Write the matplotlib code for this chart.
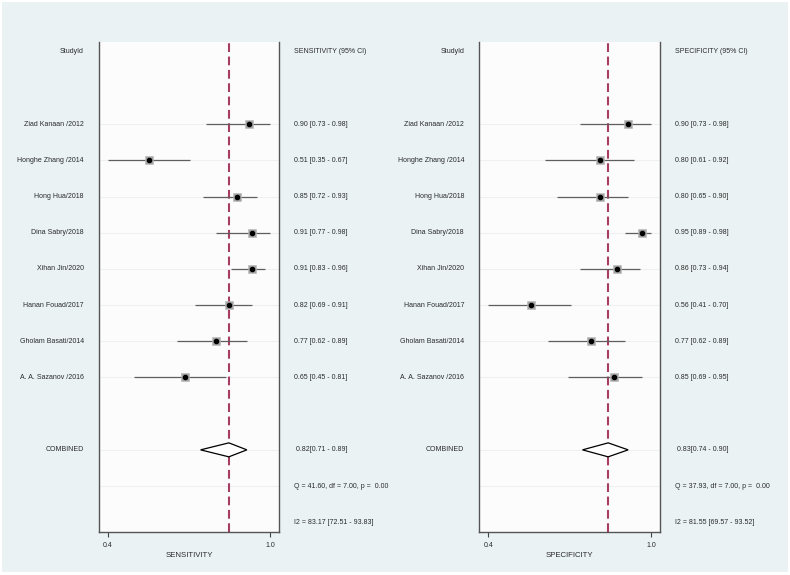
import matplotlib
matplotlib.use("Agg")
import matplotlib.pyplot as plt
from matplotlib.patches import Rectangle, Polygon
import matplotlib.transforms as mtransforms

plt.rcParams['font.family'] = ['Liberation Sans', 'DejaVu Sans']

studies = ["Ziad Kanaan /2012", "Honghe Zhang /2014", "Hong Hua/2018", "Dina Sabry/2018",
           "Xihan Jin/2020", "Hanan Fouad/2017", "Gholam Basati/2014", "A. A. Sazanov /2016"]

sens = [0.90, 0.51, 0.85, 0.91, 0.91, 0.82, 0.77, 0.65]
sens_lo = [0.73, 0.35, 0.72, 0.77, 0.83, 0.69, 0.62, 0.45]
sens_hi = [0.98, 0.67, 0.93, 0.98, 0.96, 0.91, 0.89, 0.81]
sens_pooled = [0.82, 0.71, 0.89]
sens_q = [41.60, 7.00, 0.00]
sens_i2 = [83.17, 72.51, 93.83]

spec = [0.90, 0.80, 0.80, 0.95, 0.86, 0.56, 0.77, 0.85]
spec_lo = [0.73, 0.61, 0.65, 0.89, 0.73, 0.41, 0.62, 0.69]
spec_hi = [0.98, 0.92, 0.90, 0.98, 0.94, 0.70, 0.89, 0.95]
spec_pooled = [0.83, 0.74, 0.90]
spec_q = [37.93, 7.00, 0.00]
spec_i2 = [81.55, 69.57, 93.52]

W, H = 790, 575
fig = plt.figure(figsize=(W / 100, H / 100), dpi=100, facecolor='white')
fig.patches.append(Rectangle((2 / W, 3 / H), (W - 4) / W, (H - 5) / H,
                             transform=fig.transFigure, facecolor='#eaf2f3',
                             edgecolor='none', zorder=-10))

TXT = '#2a2a2a'
FS = 5.0


def fmt1(v):
    return f"{v + 1e-9:.1f}"


def panel(left_px, width_px, name, est, lo, hi, pooled, q, i2):
    ax = fig.add_axes([left_px / W, 43 / H, width_px / W, 490 / H])
    ax.set_facecolor('#fdfcfd')
    n = len(est)
    rows = list(range(2, 2 + n))
    r_comb, r_q, r_i2 = 2 + n + 1, 2 + n + 2, 2 + n + 3
    ax.set_ylim(r_i2 + 0.27, -0.27)
    tmin, tmax = min(lo), max(hi)
    pad = (tmax - tmin) * 9 / 162
    ax.set_xlim(tmin - pad, tmax + pad)

    for r in rows + [r_comb, r_q]:
        ax.axhline(r, color='#edf1f3', lw=0.8, zorder=0)

    ax.axvline(pooled[0], color='#a63d63', lw=1.5, dashes=(4.2, 2.2), zorder=2)

    for r, e, l, h in zip(rows, est, lo, hi):
        ax.plot([l, h], [r, r], color='#5e5e5e', lw=0.9, zorder=3, solid_capstyle='butt')
        ax.plot([e], [r], marker='s', ms=5.6, mfc='#a3a3a3', mec='#b8b8b8', mew=0.4, zorder=4)
        ax.plot([e], [r], marker='o', ms=3.0, mfc='black', mec='black', zorder=5)

    dh = 0.193
    diamond = Polygon([(pooled[1], r_comb), (pooled[0], r_comb - dh),
                       (pooled[2], r_comb), (pooled[0], r_comb + dh)],
                      closed=True, facecolor='white', edgecolor='black', lw=0.9, zorder=4)
    ax.add_patch(diamond)

    for s in ['left', 'right', 'bottom']:
        ax.spines[s].set_color('#555555')
        ax.spines[s].set_linewidth(1.0)
    ax.spines['top'].set_visible(False)

    ax.set_yticks([])
    ax.set_xticks([tmin, tmax])
    ax.set_xticklabels([fmt1(tmin), fmt1(tmax)], fontsize=FS, color=TXT)
    ax.tick_params(axis='x', direction='out', length=3.5, width=0.8, color='#444444', pad=3.5)
    ax.set_xlabel(name, fontsize=5.6, color=TXT, labelpad=2.5)

    tr = mtransforms.blended_transform_factory(ax.transAxes, ax.transData)
    xl = -0.084
    xr = 1.083
    ax.text(xl, 0, "StudyId", transform=tr, ha='right', va='center', fontsize=FS, color=TXT)
    ax.text(xr, 0, f"{name} (95% CI)", transform=tr, ha='left', va='center', fontsize=FS, color=TXT)
    for r, s, e, l, h in zip(rows, studies, est, lo, hi):
        ax.text(xl, r, s, transform=tr, ha='right', va='center', fontsize=FS, color=TXT)
        ax.text(xr, r, f"{e:.2f} [{l:.2f} - {h:.2f}]", transform=tr, ha='left', va='center',
                fontsize=FS, color=TXT)
    ax.text(xl, r_comb, "COMBINED", transform=tr, ha='right', va='center', fontsize=FS, color=TXT)
    ax.text(xr + 0.012, r_comb, f"{pooled[0]:.2f}[{pooled[1]:.2f} - {pooled[2]:.2f}]",
            transform=tr, ha='left', va='center', fontsize=FS, color=TXT)
    ax.text(xr, r_q, f"Q = {q[0]:.2f}, df = {q[1]:.2f}, p =  {q[2]:.2f}", transform=tr,
            ha='left', va='center', fontsize=FS, color=TXT)
    ax.text(xr, r_i2, f"I2 = {i2[0]:.2f} [{i2[1]:.2f} - {i2[2]:.2f}]", transform=tr,
            ha='left', va='center', fontsize=FS, color=TXT)
    return ax


panel(99, 180, "SENSITIVITY", sens, sens_lo, sens_hi, sens_pooled, sens_q, sens_i2)
panel(479.3, 180.7, "SPECIFICITY", spec, spec_lo, spec_hi, spec_pooled, spec_q, spec_i2)

fig.savefig("out.png", dpi=100, facecolor=fig.get_facecolor())
